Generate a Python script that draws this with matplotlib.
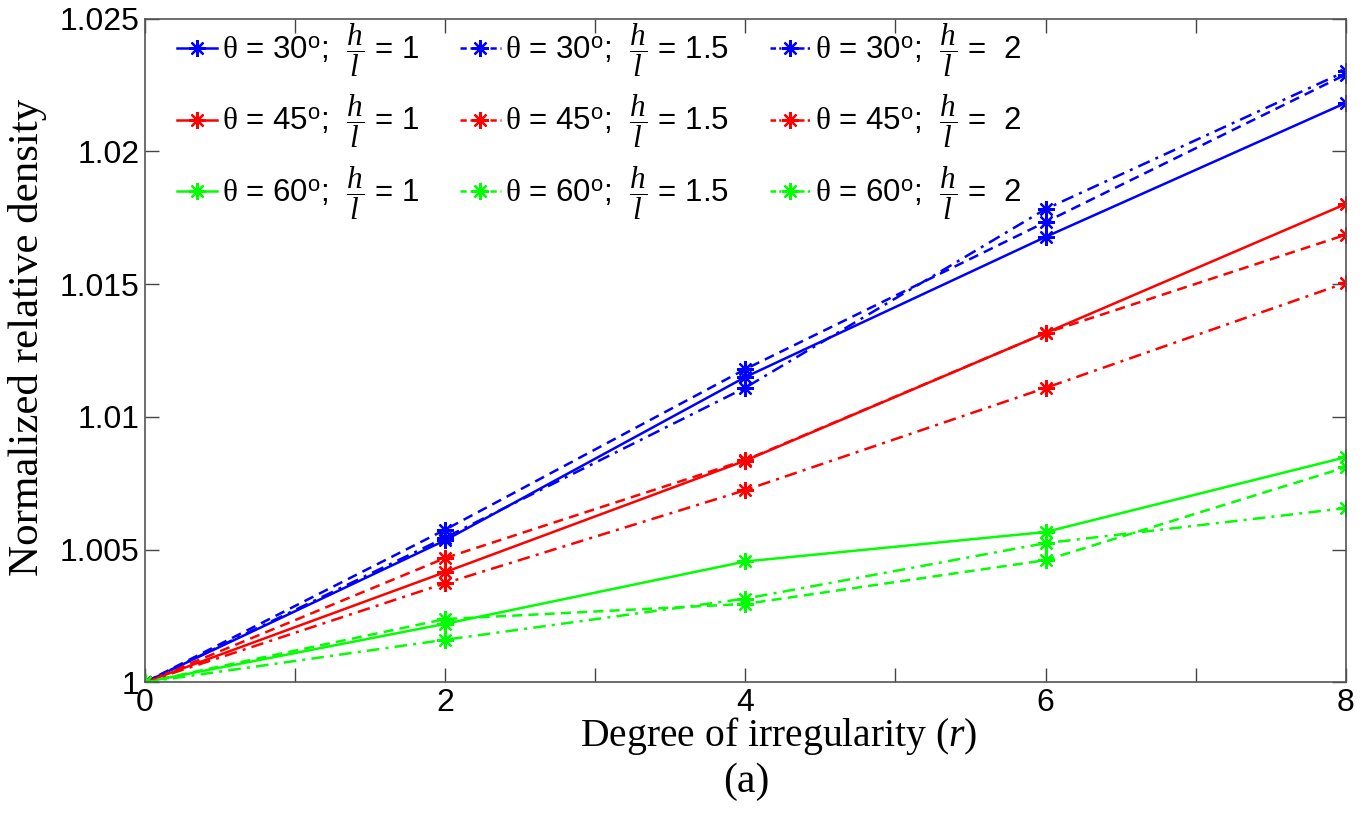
import numpy as np
import matplotlib.pyplot as plt

plt.rcParams['mathtext.fontset'] = 'custom'
plt.rcParams['mathtext.rm'] = 'Liberation Sans'
plt.rcParams['mathtext.it'] = 'Liberation Serif:italic'
plt.rcParams['mathtext.sf'] = 'Liberation Serif'

# degree of irregularity
r = [0, 2, 4, 6, 8]

# normalized relative density, per angle and h/l ratio
theta30_hl1 = [1.0, 1.00535, 1.01150, 1.01678, 1.02183]
theta30_hl15 = [1.0, 1.00575, 1.01180, 1.01734, 1.02290]
theta30_hl2 = [1.0, 1.00545, 1.01110, 1.01783, 1.02302]

theta45_hl1 = [1.0, 1.00415, 1.00835, 1.01316, 1.01802]
theta45_hl15 = [1.0, 1.00468, 1.00837, 1.01316, 1.01686]
theta45_hl2 = [1.0, 1.00373, 1.00724, 1.01109, 1.01505]

theta60_hl1 = [1.0, 1.00220, 1.00455, 1.00566, 1.00848]
theta60_hl15 = [1.0, 1.00238, 1.00295, 1.00460, 1.00810]
theta60_hl2 = [1.0, 1.00160, 1.00315, 1.00524, 1.00656]

angles = ['30', '45', '60']
ratios = ['1', '1.5', '2']
colors = {'30': '#0000ff', '45': '#ff0000', '60': '#00ff00'}
styles = {'1': '-', '1.5': (0, (4, 2.5)), '2': (0, (5, 2.5, 1.2, 2.5))}
# shorter dash patterns so the small legend handles still show them
leg_styles = {'1': '-', '1.5': (0, (2.5, 1.5)), '2': (0, (2.2, 1.3, 0.9, 1.3))}
ratio_txt = {'1': '= 1', '1.5': '= 1.5', '2': '=  2'}
series = {
    ('30', '1'): theta30_hl1, ('30', '1.5'): theta30_hl15, ('30', '2'): theta30_hl2,
    ('45', '1'): theta45_hl1, ('45', '1.5'): theta45_hl15, ('45', '2'): theta45_hl2,
    ('60', '1'): theta60_hl1, ('60', '1.5'): theta60_hl15, ('60', '2'): theta60_hl2,
}

fig = plt.figure(figsize=(13.69, 8.17), dpi=100)
ax = fig.add_axes([0.106, 0.165, 0.877, 0.812])

# legend fills column-wise, so loop ratio first
order = []
for hl in ratios:
    for ang in angles:
        lab = r'$\mathsf{\theta}$ = ' + ang + r'$^{\rm o}$;  $\dfrac{h}{l}$ ' + ratio_txt[hl]
        ax.plot(r, series[(ang, hl)], linestyle=styles[hl], color=colors[ang],
                lw=1.8, marker=(8, 2, 0), markersize=12, mew=1.6, label=lab)
        order.append(hl)

ax.set_xlim(0, 8)
ax.set_ylim(1.0, 1.025)
ax.set_xticks(range(0, 9))
ax.set_xticklabels([str(i) if i % 2 == 0 else '' for i in range(0, 9)])
ax.set_yticks([1.0, 1.005, 1.01, 1.015, 1.02, 1.025])
ax.set_yticklabels(['1', '1.005', '1.01', '1.015', '1.02', '1.025'])
ax.tick_params(direction='in', length=10, width=1, top=True, right=True,
               labelsize=23, pad=4, colors='#444444', labelcolor='black')
for lbl in ax.get_xticklabels() + ax.get_yticklabels():
    lbl.set_family('Liberation Sans')
for s in ax.spines.values():
    s.set_color('#555555')
    s.set_linewidth(1.2)

ax.set_xlabel(r'Degree of irregularity ($r$)', fontsize=28.5, family='Liberation Serif')
ax.xaxis.set_label_coords(0.528, -0.05)
ax.set_ylabel('Normalized relative density', fontsize=31, family='Liberation Serif')
ax.yaxis.set_label_coords(-0.082, 0.52)
fig.text(0.545, 0.043, '(a)', fontsize=30, family='Liberation Serif', ha='center', va='center')

leg = ax.legend(ncol=3, loc='upper left', bbox_to_anchor=(0.008, 1.03), frameon=False,
                prop={'family': 'Liberation Sans', 'size': 22.5}, handlelength=1.3,
                handletextpad=0.15, columnspacing=1.3, labelspacing=0.45, borderaxespad=0.3)
for h, hl in zip(leg.legend_handles, order):
    h.set_linestyle(leg_styles[hl])

fig.savefig('out.png', dpi=100)
